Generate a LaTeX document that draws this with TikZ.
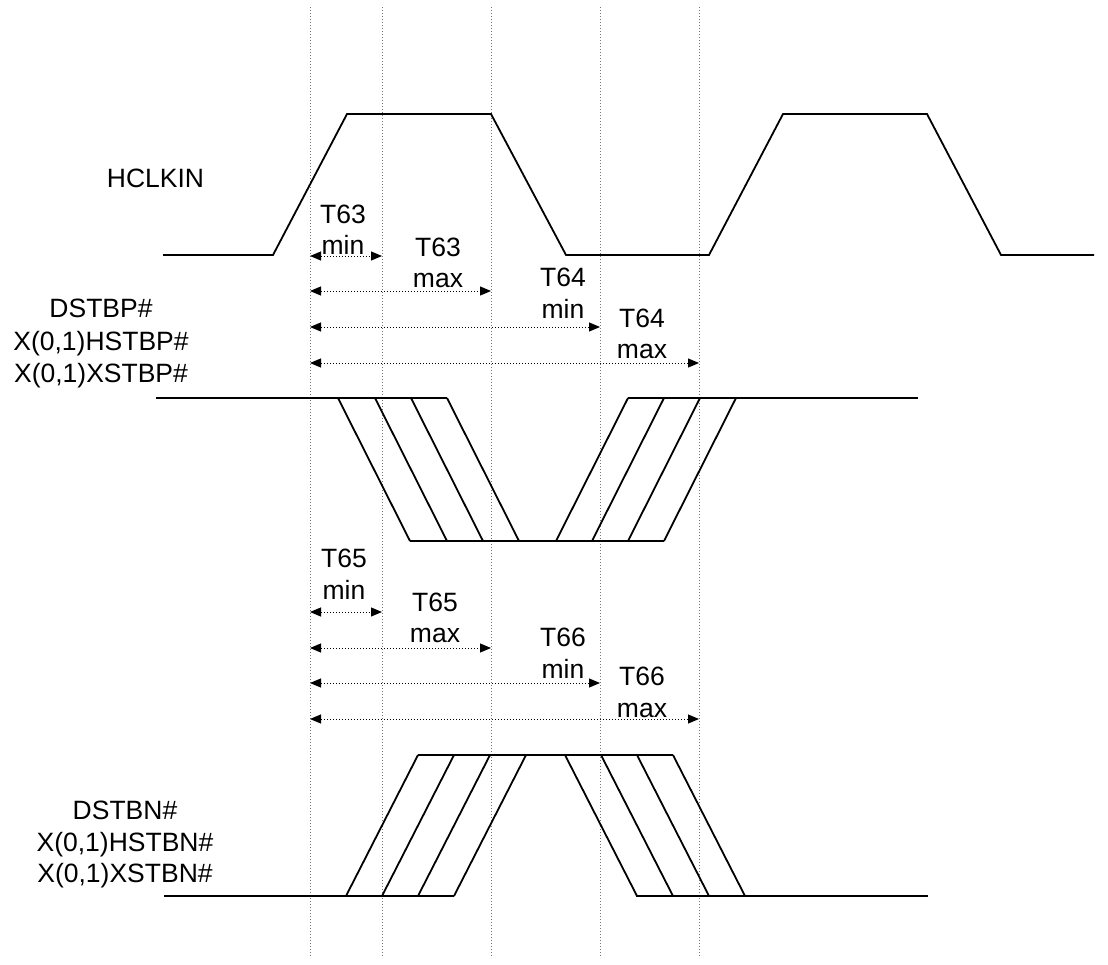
\documentclass[tikz,border=0pt]{standalone}
\usepackage{fontspec}
\setmainfont{Liberation Sans}
\usetikzlibrary{arrows.meta}
\begin{document}
\begin{tikzpicture}[x=1pt,y=-1pt,
  sig/.style={line width=1.8pt,line join=miter,line cap=butt},
  guide/.style={line width=1pt,black!55,dash pattern=on 1pt off 2pt},
  meas/.style={line width=1pt,black,dash pattern=on 1pt off 2pt,
    {Triangle[length=11pt,width=9pt]}-{Triangle[length=11pt,width=9pt]}},
  lbl/.style={anchor=base,inner sep=0pt,font=\fontsize{26.5}{32}\selectfont}]
\useasboundingbox (0,0) rectangle (1108,964);
% guide lines
\foreach \gx/\gn in {310/a,382/b,491/c,600/d,699/e}{
  \coordinate (g\gn top) at (\gx,7);
  \coordinate (g\gn bot) at (\gx,958);
  \draw[guide] (g\gn top) -- (g\gn bot);
}
% HCLKIN
\draw[sig] (163,255) -- (273,255) -- (347,114) -- (491,114) -- (566,255) -- (709,255) -- (783,114) -- (927,114) -- (1001,255) -- (1094,255);
% DSTBP#
\draw[sig] (156,398) -- (447,398);
\draw[sig] (410,541) -- (664,541);
\draw[sig] (628,398) -- (918,398);
\foreach \ex in {338,375,411,447}{
  \draw[sig] (\ex,398) -- ({\ex+72},541);
}
\foreach \ex in {556,592,628,664}{
  \draw[sig] (\ex,541) -- ({\ex+72},398);
}
% DSTBN#
\draw[sig] (164,896) -- (454,896);
\draw[sig] (418,755) -- (673,755);
\draw[sig] (636,896) -- (928,896);
\foreach \ex in {346,382,418,454}{
  \draw[sig] (\ex,896) -- ({\ex+72},755);
}
\foreach \ex in {565,601,637,673}{
  \draw[sig] (\ex,755) -- ({\ex+72},896);
}
% measurement arrows
\foreach \ry/\rn in {256/1,291/2,327/3,363/4,612/5,648/6,683/7,719/8}{
  \coordinate (m\rn L) at (310,\ry);
}
\coordinate (m1R) at (382,256);
\coordinate (m2R) at (491,291);
\coordinate (m3R) at (600,327);
\coordinate (m4R) at (699,363);
\coordinate (m5R) at (382,612);
\coordinate (m6R) at (491,648);
\coordinate (m7R) at (600,683);
\coordinate (m8R) at (699,719);
\foreach \rn in {1,...,8}{
  \draw[meas] (m\rn L) -- (m\rn R);
}
% signal labels
\node[lbl] (hclk) at (155.5,187) {HCLKIN};
\node[lbl] (p1) at (101,317) {DSTBP\#};
\node[lbl] (p2) at (101,350) {X(0,1)HSTBP\#};
\node[lbl] (p3) at (101,382) {X(0,1)XSTBP\#};
\node[lbl] (n1) at (125,819) {DSTBN\#};
\node[lbl] (n2) at (125,851) {X(0,1)HSTBN\#};
\node[lbl] (n3) at (125,882) {X(0,1)XSTBN\#};
% timing labels
\node[lbl] (t63a) at (343,223) {T63};
\node[lbl] (t63b) at (343,254) {min};
\node[lbl] (t63c) at (438,256) {T63};
\node[lbl] (t63d) at (438,287) {max};
\node[lbl] (t64a) at (563,286) {T64};
\node[lbl] (t64b) at (563,318) {min};
\node[lbl] (t64c) at (642,327) {T64};
\node[lbl] (t64d) at (642,358) {max};
\node[lbl] (t65a) at (344,567) {T65};
\node[lbl] (t65b) at (344,599) {min};
\node[lbl] (t65c) at (435,611) {T65};
\node[lbl] (t65d) at (435,642) {max};
\node[lbl] (t66a) at (563,646) {T66};
\node[lbl] (t66b) at (563,678) {min};
\node[lbl] (t66c) at (642,685) {T66};
\node[lbl] (t66d) at (642,717) {max};
\end{tikzpicture}
\end{document}
